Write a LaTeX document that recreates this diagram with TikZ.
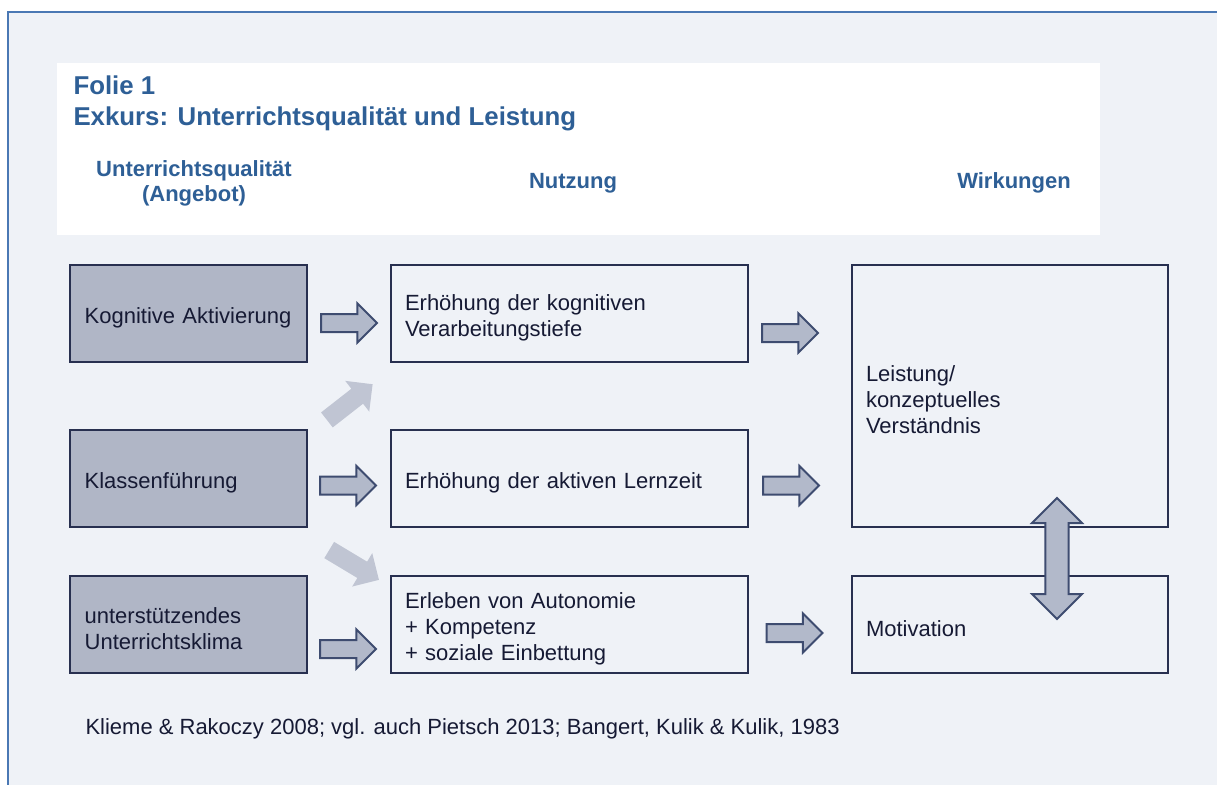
\documentclass[tikz,border=0pt]{standalone}
\usepackage{fontspec}
\setmainfont{Liberation Sans}
\usetikzlibrary{shapes.arrows}

\definecolor{folienbg}{RGB}{239,242,247}
\definecolor{rahmenblau}{RGB}{74,120,180}
\definecolor{titelblau}{RGB}{46,95,150}
\definecolor{boxgrau}{RGB}{176,182,198}
\definecolor{boxlinie}{RGB}{40,48,80}
\definecolor{pfeilgrau}{RGB}{178,185,202}
\definecolor{pfeillinie}{RGB}{62,76,112}
\definecolor{pfeilhell}{RGB}{192,197,211}
\definecolor{textdunkel}{RGB}{22,26,52}

\tikzset{every picture/.style={line width=0.75pt}}
\tikzset{
  boxtext/.style={font=\fontsize{16.5}{19.5}\selectfont, text=textdunkel, align=left},
  angebot/.style={boxtext, draw=boxlinie, line width=1.2pt, fill=boxgrau, inner xsep=11pt,
    text width=155.75pt, text height=18pt, minimum height=72.75pt},
  nutzung/.style={boxtext, draw=boxlinie, line width=1.2pt, inner xsep=10.5pt,
    text width=246.75pt, text height=18pt, minimum height=72.75pt},
  wirkung/.style={boxtext, draw=boxlinie, line width=1.2pt, inner xsep=10.5pt,
    text width=216pt, text height=18pt, minimum height=72.75pt},
  hohlpfeil/.style={single arrow, draw=pfeillinie, fill=pfeilgrau, line width=1.5pt,
    inner xsep=0pt, inner ysep=6pt, minimum height=42pt, minimum width=0pt,
    single arrow head extend=7.9pt, single arrow head indent=0pt},
  blasspfeil/.style={single arrow, fill=pfeilhell, inner xsep=0pt, inner ysep=6.75pt,
    minimum height=43.5pt, minimum width=0pt, single arrow head extend=7.5pt,
    single arrow head indent=0pt},
  kopf/.style={font=\bfseries\fontsize{16.5}{18.75}\selectfont, text=titelblau, inner sep=0pt},
  titel/.style={font=\bfseries\fontsize{19.35}{23}\selectfont, text=titelblau, inner sep=0pt, anchor=base west}
}

\begin{document}
\begin{tikzpicture}[x=0.75pt,y=0.75pt,yscale=-1,xscale=1]
\useasboundingbox (0,0) rectangle (1217,785);

%Shape: Background
\fill [folienbg] (8,12) rectangle (1240,800);
\draw [rahmenblau, line width=1.1pt] (8,800) -- (8,12) -- (1240,12);
%Shape: Title panel
\fill [white] (57,63) rectangle (1100,235);

% Text Node
\node [titel] (folie) at (73,94) {Folie 1};
% Text Node
\node [titel] (exkurs) at (73,125) {Exkurs: Unterrichtsqualität und Leistung};
% Text Node
\node [kopf, anchor=north, align=center] (kopfangebot) at (194,160) {Unterrichtsqualität\\(Angebot)};
% Text Node
\node [kopf, anchor=base] (kopfnutzung) at (573,188) {Nutzung};
% Text Node
\node [kopf, anchor=base] (kopfwirkung) at (1014,188) {Wirkungen};

%Shape: Rectangle (Angebot)
\node [angebot] (kogakt) at (188.5,313.5) {Kognitive Aktivierung};
\node [angebot] (klasse) at (188.5,478.5) {Klassenführung};
\node [angebot] (klima) at (188.5,624.5) {unterstützendes\\Unterrichtsklima};

%Shape: Rectangle (Nutzung)
\node [nutzung] (tiefe) at (569.5,313.5) {Erhöhung der kognitiven\\Verarbeitungstiefe};
\node [nutzung] (lernzeit) at (569.5,478.5) {Erhöhung der aktiven Lernzeit};
\node [nutzung] (erleben) at (569.5,624.5) {Erleben von Autonomie\\+ Kompetenz\\+ soziale Einbettung};

%Shape: Rectangle (Wirkungen)
\node [wirkung, minimum height=196.5pt] (leistung) at (1010,396) {Leistung/\\konzeptuelles\\Verständnis};
\node [wirkung] (motivation) at (1010,624.5) {Motivation};

%Shape: Right Arrow
\node [hohlpfeil] (p11) at (344.5,323) {};
\node [hohlpfeil] (p21) at (343.5,485.5) {};
\node [hohlpfeil] (p31) at (343.5,649) {};
%Shape: Right Arrow
\node [hohlpfeil] (p12) at (785.5,333) {};
\node [hohlpfeil] (p22) at (786.5,485.5) {};
\node [hohlpfeil] (p32) at (790,633) {};

%Shape: Right Arrow (pale)
\node [blasspfeil, rotate=38] (hochpfeil) at (346,405) {};
\node [blasspfeil, rotate=-31] (runterpfeil) at (350,562.5) {};

%Shape: Up Down Arrow
\node [double arrow, rotate=90, draw=pfeillinie, fill=pfeilgrau, line width=1.5pt,
  inner xsep=0pt, inner ysep=7.9pt, minimum height=90.75pt, minimum width=0pt,
  double arrow head extend=10.1pt, double arrow head indent=0pt] (wechsel) at (1057,558.5) {};

% Text Node
\node [boxtext, anchor=base west, inner sep=0pt] (quelle) at (85,734)
  {Klieme \& Rakoczy 2008; vgl. auch Pietsch 2013; Bangert, Kulik \& Kulik, 1983};

\end{tikzpicture}
\end{document}
